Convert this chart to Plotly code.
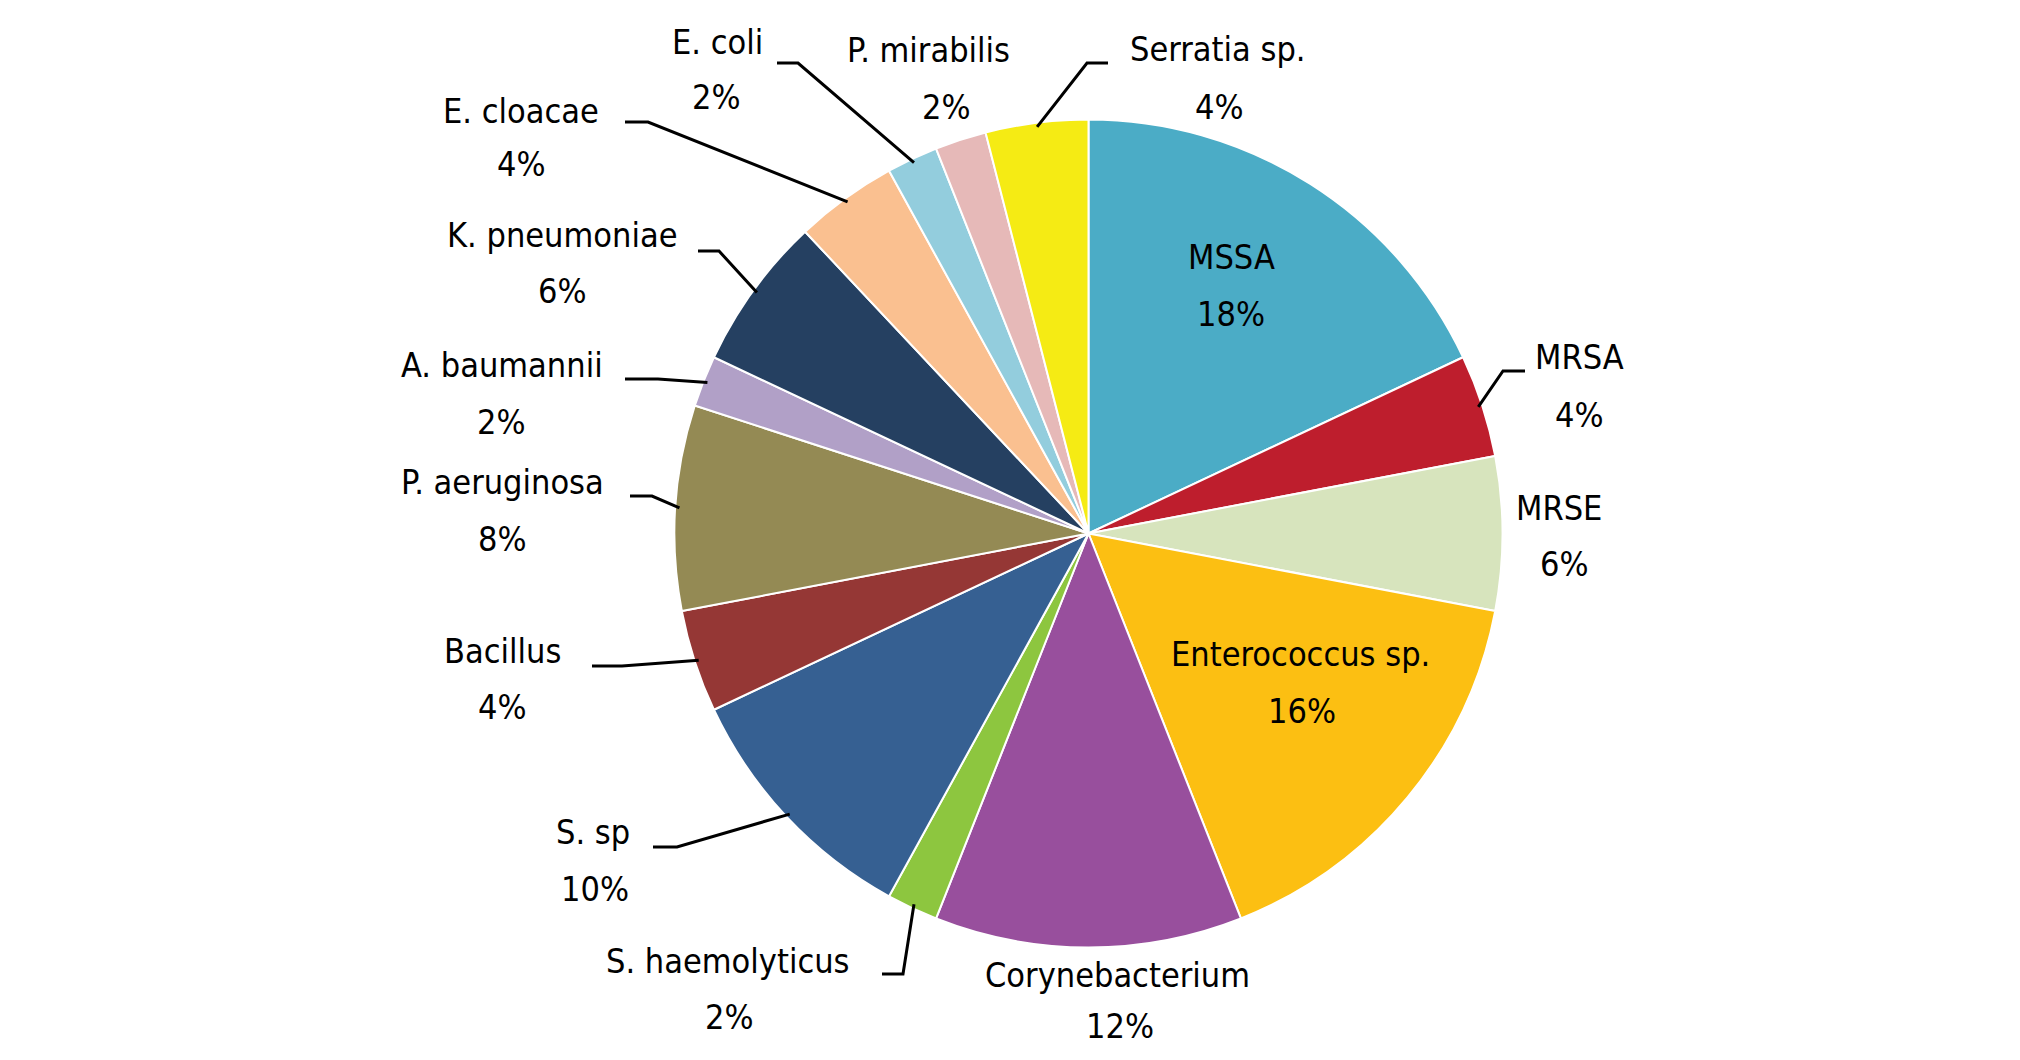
import math
import plotly.graph_objects as go

# ---------------- data ----------------
labels = ["MSSA", "MRSA", "MRSE", "Enterococcus sp.", "Corynebacterium",
          "S. haemolyticus", "S. sp", "Bacillus", "P. aeruginosa",
          "A. baumannii", "K. pneumoniae", "E. cloacae", "E. coli",
          "P. mirabilis", "Serratia sp."]
values = [18, 4, 6, 16, 12, 2, 10, 4, 8, 2, 6, 4, 2, 2, 4]
colors = ["#4BACC6", "#BE1E2D", "#D7E4BD", "#FCBF12", "#984F9D",
          "#8DC63F", "#366092", "#953735", "#948A54",
          "#B1A0C7", "#254061", "#FAC090", "#93CDDD",
          "#E6B9B8", "#F5EB14"]

# ---------------- layout / styling ----------------
PAGE_W, PAGE_H = 2020, 1060
OFF = 8                                   # default body margin of the html page
W, H = PAGE_W - 2 * OFF, PAGE_H - 2 * OFF  # figure size
CX, CY, R = 1088.5, 533.5, 414.0          # pie centre & radius (page px)
FONT = "DejaVu Sans Condensed, DejaVu Sans, sans-serif"
FSIZE = 34

# label placement (page px): name centre, percentage centre
label_pos = {
    "MSSA": ((1231, 257), (1231, 314)),
    "MRSA": ((1579, 357), (1579, 415)),
    "MRSE": ((1559, 508), (1564, 564)),
    "Enterococcus sp.": ((1300, 654), (1302, 711)),
    "Corynebacterium": ((1117, 975), (1120, 1026)),
    "S. haemolyticus": ((728, 961), (729, 1017)),
    "S. sp": ((593, 832), (595, 889)),
    "Bacillus": ((502, 651), (502, 707)),
    "P. aeruginosa": ((502, 482), (502, 539)),
    "A. baumannii": ((502, 365), (501, 422)),
    "K. pneumoniae": ((562, 235), (562, 291)),
    "E. cloacae": ((521, 111), (521, 164)),
    "E. coli": ((717, 42), (716, 97)),
    "P. mirabilis": ((928, 50), (946, 107)),
    "Serratia sp.": ((1218, 49), (1219, 107)),
}
# leader lines (page px): elbow point, end point; start is computed on the pie edge
leaders = {
    "MRSA": ((1503, 371), (1525, 371)),
    "S. haemolyticus": ((903, 974), (882, 974)),
    "S. sp": ((677, 847), (653, 847)),
    "Bacillus": ((622, 666), (592, 666)),
    "P. aeruginosa": ((652, 496), (630, 496)),
    "A. baumannii": ((658, 379), (625, 379)),
    "K. pneumoniae": ((719, 251), (698, 251)),
    "E. cloacae": ((648, 122), (625, 122)),
    "E. coli": ((798, 63), (777, 63)),
    "Serratia sp.": ((1087, 63), (1108, 63)),
}


def px(x):
    return (x - OFF) / W


def py(y):
    return 1 - (y - OFF) / H


total = sum(values)
percents = [f"{round(100 * v / total)}%" for v in values]

fig = go.Figure(go.Pie(
    labels=labels,
    values=values,
    sort=False,
    direction="clockwise",
    rotation=0,
    marker=dict(colors=colors, line=dict(color="white", width=2)),
    textinfo="none",
    hoverinfo="label+percent",
    domain=dict(x=[px(CX - R), px(CX + R)], y=[py(CY + R), py(CY - R)]),
))

annotations = []
for lab, pct in zip(labels, percents):
    (nx, ny), (qx, qy) = label_pos[lab]
    for txt, x, y in ((lab, nx, ny), (pct, qx, qy)):
        annotations.append(dict(
            text=txt, x=px(x), y=py(y), xref="paper", yref="paper",
            showarrow=False, xanchor="center", yanchor="middle",
            font=dict(family=FONT, size=FSIZE, color="black"),
        ))

shapes = []
cum = 0.0
for lab, v in zip(labels, values):
    mid = 2 * math.pi * (cum + v / 2) / total
    cum += v
    if lab not in leaders:
        continue
    sx = CX + R * 0.99 * math.sin(mid)
    sy = CY - R * 0.99 * math.cos(mid)
    (ex, ey), (tx, ty) = leaders[lab]
    path = f"M {px(sx)},{py(sy)} L {px(ex)},{py(ey)} L {px(tx)},{py(ty)}"
    shapes.append(dict(type="path", path=path, xref="paper", yref="paper",
                       line=dict(color="black", width=3)))

fig.update_layout(
    width=W, height=H,
    margin=dict(l=0, r=0, t=0, b=0),
    paper_bgcolor="white", plot_bgcolor="white",
    showlegend=False,
    annotations=annotations,
    shapes=shapes,
)

fig.write_html("out.html")
